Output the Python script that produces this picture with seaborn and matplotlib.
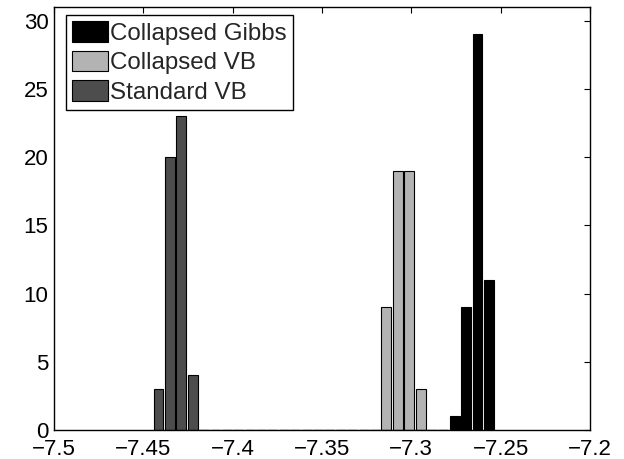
import numpy as np
import matplotlib
matplotlib.use("Agg")
import matplotlib.pyplot as plt
import seaborn as sns
from matplotlib.patches import Patch

# значення
labels = ["Collapsed Gibbs", "Collapsed VB", "Standard VB"]
cg_x = [-7.2756, -7.2693, -7.2629, -7.2566]
cg_n = [1, 9, 29, 11]
cvb_x = [-7.3138, -7.3075, -7.3012, -7.2947]
cvb_n = [9, 19, 19, 3]
svb_x = [-7.4415, -7.4351, -7.4288, -7.4223]
svb_n = [3, 20, 23, 4]
x_ticks = [-7.5, -7.45, -7.4, -7.35, -7.3, -7.25, -7.2]
x_ticklabels = ["\u22127.5", "\u22127.45", "\u22127.4", "\u22127.35", "\u22127.3", "\u22127.25", "\u22127.2"]
y_ticks = [0, 5, 10, 15, 20, 25, 30]

# спільні біни (30 штук) як у hist з matlab
bin_lo, bin_hi, n_bins = -7.44469, -7.25339, 30
edges = list(np.linspace(bin_lo, bin_hi, n_bins + 1))

colors = ["#000000", "#b3b3b3", "#4d4d4d"]

sns.set_style("white")
plt.rcParams["font.family"] = ["Liberation Sans", "DejaVu Sans"]

fig = plt.figure(figsize=(6.24, 4.59), dpi=100)
ax = fig.add_axes([54 / 624, 1 - 430 / 459, 536 / 624, 423 / 459])

for xs, ns, c in [(cg_x, cg_n, colors[0]), (cvb_x, cvb_n, colors[1]), (svb_x, svb_n, colors[2])]:
    sns.histplot(x=xs, weights=ns, bins=edges, shrink=0.87, color=c, alpha=1,
                 edgecolor="black", linewidth=0.8, ax=ax)

ax.set_xlim(-7.5, -7.2)
ax.set_ylim(0, 31)
ax.set_xticks(x_ticks)
ax.set_xticklabels(x_ticklabels)
ax.set_yticks(y_ticks)
ax.set_ylabel("")
ax.set_xlabel("")
ax.tick_params(direction="in", length=4, width=0.8, top=True, right=True,
               labelsize=16, colors="black")
ax.tick_params(axis="x", pad=6.5)
ax.tick_params(axis="y", pad=4)
for s in ax.spines.values():
    s.set_visible(True)
    s.set_color("black")
    s.set_linewidth(1)

handles = [Patch(facecolor=c, edgecolor="black", linewidth=0.8) for c in colors]
leg = ax.legend(handles, labels, loc="upper left",
                bbox_to_anchor=(11.7 / 536, 1 - 8 / 423), borderaxespad=0,
                fontsize=17.4, handlelength=1.5, handleheight=0.95,
                handletextpad=0.1, labelspacing=0.24, borderpad=0.25,
                fancybox=False, framealpha=1, edgecolor="black")
leg.get_frame().set_linewidth(1)

fig.savefig("out.png", dpi=100)
